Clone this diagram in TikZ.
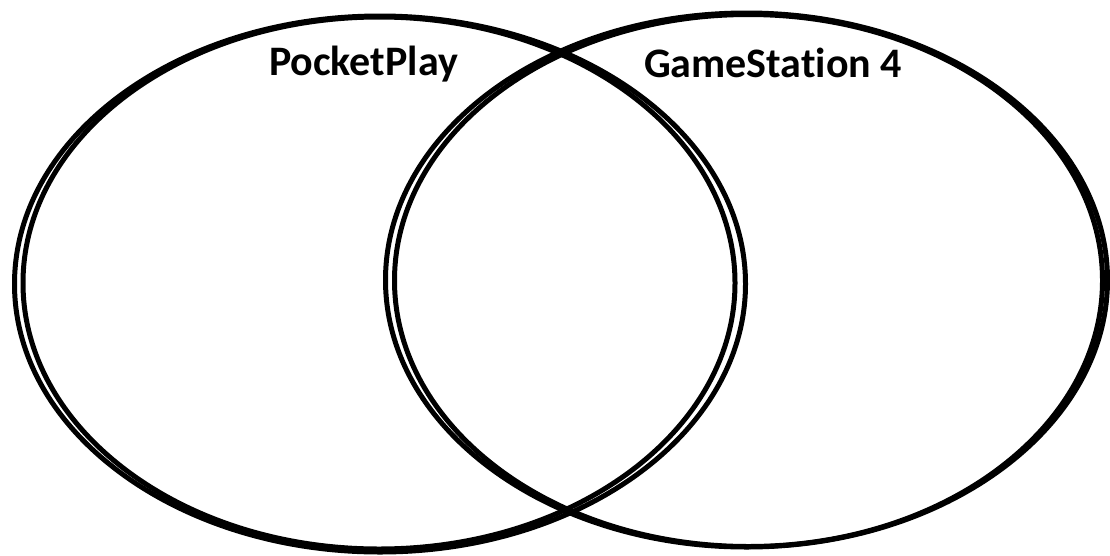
\documentclass[tikz,border=0pt]{standalone}
\usepackage{fontspec}
\setmainfont[Ligatures=NoCommon]{Carlito}
\begin{document}
\begin{tikzpicture}[x=1pt,y=-1pt,
  ring/.style={draw=black,line width=5pt},
  label/.style={anchor=base,inner sep=0pt,font=\fontsize{42}{48}\selectfont\bfseries}]
\useasboundingbox (0,0) rectangle (1110,555);
% left set (PocketPlay)
\draw[ring] (380,284) ellipse [x radius=365.5pt, y radius=268pt];
\draw[ring] (379,283) ellipse [x radius=356pt, y radius=266pt];
% right set (GameStation 4)
\draw[ring] (746.5,280) ellipse [x radius=361pt, y radius=267pt];
\draw[ring] (748.5,280.5) ellipse [x radius=354pt, y radius=266pt];
\node[label] (pp) at (363.5,75) {PocketPlay};
\node[label] (gs) at (773,77) {GameStation 4};
\end{tikzpicture}
\end{document}
